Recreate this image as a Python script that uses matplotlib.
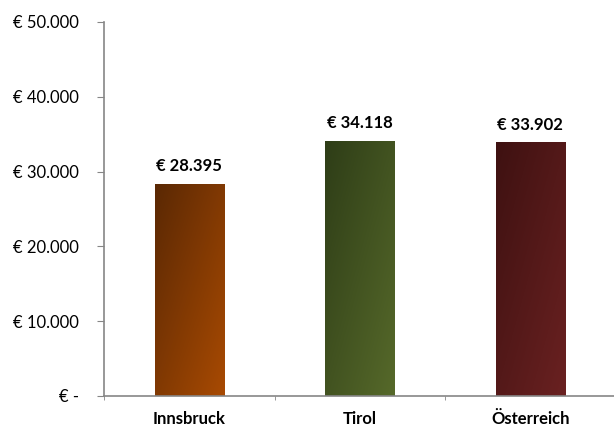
import matplotlib
matplotlib.use("Agg")
import matplotlib.pyplot as plt
import numpy as np
from matplotlib.colors import LinearSegmentedColormap
from matplotlib.ticker import FuncFormatter, FixedLocator

categories = ["Innsbruck", "Tirol", "Österreich"]
values = [28395, 34118, 33902]
labels = ["€ 28.395", "€ 34.118", "€ 33.902"]
# (dark top-left, light bottom-right)
gradients = [("#5a2804", "#a84a02"), ("#2e3d17", "#56692a"), ("#3e1111", "#6a2121")]

plt.rcParams['font.family'] = ['Lato', 'DejaVu Sans']

fig = plt.figure(figsize=(6.14, 4.28), dpi=100)
ax = fig.add_axes([104 / 614, 1 - 396 / 428, 510 / 614, (396 - 22) / 428])

x = np.arange(len(categories))
bars = ax.bar(x, values, width=0.405, color="none", edgecolor="none")

# diagonal gradient fill for each bar
yy, xx = np.mgrid[0:1:100j, 0:1:100j]
grad = (xx + yy) / 2
for bar, (c0, c1) in zip(bars, gradients):
    cmap = LinearSegmentedColormap.from_list("g", [c0, c1])
    bx, bw, bh = bar.get_x(), bar.get_width(), bar.get_height()
    im = ax.imshow(grad, cmap=cmap, extent=[bx, bx + bw, 0, bh], origin="upper",
                   aspect="auto", zorder=2, vmin=0, vmax=1)
    im.set_clip_path(bar)

for xi, v, lab in zip(x, values, labels):
    ax.annotate(lab, (xi, v), xytext=(0, 7), textcoords="offset points",
                ha="center", va="bottom", fontsize=12, fontweight="bold")

ax.set_xlim(-0.5, 2.49)
ax.set_ylim(0, 50000)
ax.set_yticks(np.arange(0, 50001, 10000))
ax.yaxis.set_major_formatter(FuncFormatter(
    lambda v, p: "€ -" if v == 0 else "€ {:,.0f}".format(v).replace(",", ".")))
ax.set_xticks(x)
ax.set_xticklabels(categories, fontweight="bold", fontsize=12)
ax.xaxis.set_minor_locator(FixedLocator([-0.5, 0.5, 1.5]))
ax.tick_params(axis="x", which="major", length=0, pad=11)
ax.tick_params(axis="x", which="minor", length=3, color="#868686", direction="out")
ax.tick_params(axis="y", length=5, color="#868686", labelsize=12, pad=13)

for s in ["top", "right"]:
    ax.spines[s].set_visible(False)
for s in ["left", "bottom"]:
    ax.spines[s].set_color("#868686")
    ax.spines[s].set_linewidth(1.2)

fig.savefig("out.png", dpi=100)
